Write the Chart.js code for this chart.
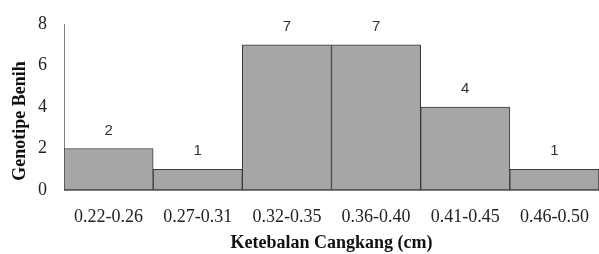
<!DOCTYPE html>
<html lang="en">
<head>
    <meta charset="utf-8" />
    <title>Ketebalan Cangkang</title>
    <script src="https://cdn.jsdelivr.net/npm/chart.js"></script>
    <style>
        html, body { margin: 0; padding: 0; background: #fff; }
        #chart { display: block; }
    </style>
</head>
<body>
    <canvas id="chart" width="599" height="254" style="width: 599px; height: 254px"></canvas>
    <script type="text/javascript">
        // thickness classes and how many seed genotypes fall in each
        var ranges = ['0.22-0.26', '0.27-0.31', '0.32-0.35', '0.36-0.40', '0.41-0.45', '0.46-0.50'];
        var counts = [2, 1, 7, 7, 4, 1];
        var yTicks = [0, 2, 4, 6, 8];
        var yTitle = 'Genotipe Benih';

        var serif = '"Liberation Serif", "Times New Roman", serif';

        // small inline replacement for the datalabels plugin, plus the y title
        // (the original title sits a bit below the middle of the axis)
        var valueLabels = {
            id: 'valueLabels',
            afterDatasetsDraw: function (chart) {
                var ctx = chart.ctx;
                var meta = chart.getDatasetMeta(0);
                ctx.save();
                ctx.font = '15px "Liberation Sans", Arial, sans-serif';
                ctx.fillStyle = '#333';
                ctx.textAlign = 'center';
                ctx.textBaseline = 'middle';
                meta.data.forEach(function (bar, i) {
                    ctx.fillText(String(counts[i]), bar.x, bar.y - 18);
                });
                ctx.restore();
            },
            afterDraw: function (chart) {
                var ctx = chart.ctx;
                ctx.save();
                ctx.translate(20, 121);
                ctx.rotate(-Math.PI / 2);
                ctx.font = 'bold 18px ' + serif;
                ctx.fillStyle = '#111';
                ctx.textAlign = 'center';
                ctx.textBaseline = 'middle';
                ctx.fillText(yTitle, 0, 0);
                ctx.restore();
            }
        };

        new Chart(document.getElementById('chart'), {
            type: 'bar',
            data: {
                labels: ranges,
                datasets: [{
                    data: counts,
                    backgroundColor: '#a6a6a6',
                    borderColor: '#3a3a3a',
                    borderWidth: 1,
                    borderSkipped: false,
                    categoryPercentage: 1.0,
                    barPercentage: 1.0
                }]
            },
            options: {
                responsive: false,
                animation: false,
                layout: { padding: { top: 24, right: 0, bottom: 0, left: 0 } },
                plugins: {
                    legend: { display: false },
                    tooltip: { enabled: false }
                },
                scales: {
                    x: {
                        grid: { display: false, drawTicks: false },
                        border: { display: true, color: '#808080' },
                        ticks: {
                            color: '#222',
                            font: { family: serif, size: 18 },
                            padding: 16,
                            maxRotation: 0
                        },
                        title: {
                            display: true,
                            text: 'Ketebalan Cangkang (cm)',
                            color: '#111',
                            font: { family: serif, size: 18, weight: 'bold' },
                            padding: { top: 0, bottom: 0 }
                        },
                        afterFit: function (scale) {
                            scale.height = 64;
                            scale.paddingLeft = 0;
                            scale.paddingRight = 0;
                        }
                    },
                    y: {
                        min: 0,
                        max: 8,
                        afterBuildTicks: function (scale) {
                            scale.ticks = yTicks.map(function (v) { return { value: v }; });
                        },
                        grid: { display: false, drawTicks: false },
                        border: { display: true, color: '#808080' },
                        ticks: {
                            color: '#222',
                            font: { family: serif, size: 18 },
                            padding: 17
                        },
                        title: { display: false },
                        afterFit: function (scale) {
                            scale.width = 64;
                            scale.paddingTop = 0;
                            scale.paddingBottom = 0;
                        }
                    }
                }
            },
            plugins: [valueLabels]
        });
    </script>
</body>
</html>
